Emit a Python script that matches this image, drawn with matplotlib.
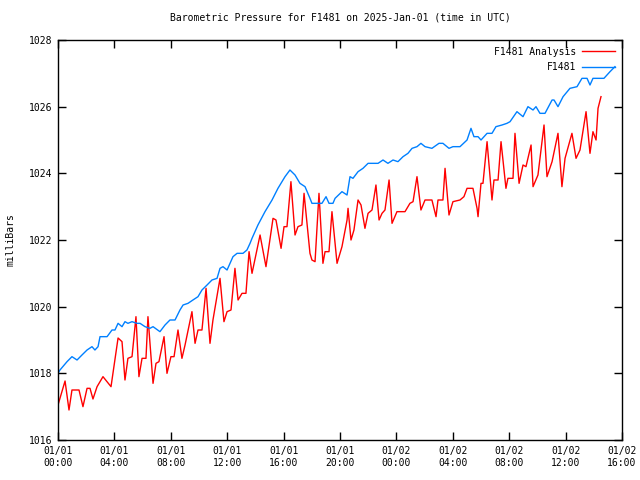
import matplotlib
matplotlib.use('Agg')
import matplotlib.pyplot as plt

# hours since 2025-01-01 00:00 UTC
analysis_hours = [0.00, 0.50, 0.78, 0.99, 1.49, 1.77, 2.06, 2.27, 2.48, 2.77, 3.19, 3.76,
                  4.26, 4.54, 4.75, 4.96, 5.25, 5.53, 5.74, 5.96, 6.24, 6.38, 6.74, 6.95,
                  7.16, 7.52, 7.73, 8.01, 8.23, 8.51, 8.79, 9.01, 9.50, 9.72, 9.93, 10.21,
                  10.50, 10.78, 10.99, 11.49, 11.77, 11.99, 12.27, 12.55, 12.77, 13.05, 13.33,
                  13.55, 13.76, 14.33, 14.75, 15.25, 15.46, 15.82, 16.03, 16.24, 16.52, 16.81,
                  17.02, 17.30, 17.45, 17.87, 18.01, 18.23, 18.51, 18.79, 18.94, 19.22, 19.43,
                  19.79, 20.14, 20.50, 20.57, 20.78, 20.99, 21.28, 21.49, 21.77, 21.99, 22.27,
                  22.55, 22.77, 22.98, 23.19, 23.48, 23.69, 24.04, 24.61, 24.96, 25.18, 25.46,
                  25.74, 26.03, 26.52, 26.81, 26.95, 27.30, 27.45, 27.73, 28.01, 28.51, 28.79,
                  29.01, 29.43, 29.72, 29.79, 30.00, 30.14, 30.43, 30.78, 30.92, 31.21, 31.42,
                  31.77, 31.91, 32.27, 32.41, 32.70, 32.98, 33.19, 33.55, 33.69, 34.04, 34.47,
                  34.68, 35.04, 35.46, 35.74, 35.96, 36.45, 36.74, 37.02, 37.45, 37.73, 37.94,
                  38.16, 38.30, 38.51]
analysis_mb = [1017.05, 1017.77, 1016.9, 1017.5, 1017.5, 1017.0, 1017.55, 1017.55, 1017.23,
               1017.6, 1017.9, 1017.6, 1019.06, 1018.95, 1017.8, 1018.45, 1018.5, 1019.7,
               1017.9, 1018.45, 1018.45, 1019.7, 1017.7, 1018.3, 1018.35, 1019.1, 1018.0,
               1018.5, 1018.5, 1019.3, 1018.45, 1018.85, 1019.85, 1018.9, 1019.3, 1019.3,
               1020.55, 1018.9, 1019.6, 1020.85, 1019.55, 1019.85, 1019.9, 1021.15, 1020.2,
               1020.4, 1020.4, 1021.65, 1021.0, 1022.15, 1021.2, 1022.65, 1022.6, 1021.75,
               1022.4, 1022.4, 1023.75, 1022.15, 1022.4, 1022.45, 1023.4, 1021.6, 1021.4,
               1021.35, 1023.4, 1021.3, 1021.65, 1021.65, 1022.85, 1021.3, 1021.8, 1022.6,
               1022.95, 1022.0, 1022.3, 1023.2, 1023.05, 1022.35, 1022.8, 1022.9, 1023.65,
               1022.6, 1022.8, 1022.9, 1023.8, 1022.5, 1022.85, 1022.85, 1023.1, 1023.15,
               1023.9, 1022.9, 1023.2, 1023.2, 1022.7, 1023.2, 1023.2, 1024.15, 1022.75,
               1023.15, 1023.2, 1023.3, 1023.55, 1023.55, 1022.95, 1022.7, 1023.7, 1023.7,
               1024.95, 1023.2, 1023.8, 1023.8, 1024.95, 1023.55, 1023.85, 1023.85, 1025.2,
               1023.7, 1024.25, 1024.2, 1024.85, 1023.6, 1023.95, 1025.45, 1023.9, 1024.35,
               1025.2, 1023.6, 1024.45, 1025.2, 1024.45, 1024.7, 1025.85, 1024.6, 1025.25,
               1025.0, 1025.95, 1026.3]

obs_hours = [0.00, 0.14, 0.64, 0.99, 1.35, 1.70, 2.06, 2.41, 2.62, 2.84, 2.98, 3.48, 3.83,
             4.04, 4.26, 4.54, 4.75, 4.96, 5.25, 5.60, 5.82, 6.17, 6.52, 6.74, 7.23, 7.59,
             7.94, 8.30, 8.65, 8.87, 9.22, 9.57, 9.93, 10.21, 10.57, 10.92, 11.28, 11.49,
             11.70, 11.99, 12.41, 12.70, 13.12, 13.40, 13.62, 13.76, 14.18, 14.68, 15.18,
             15.60, 16.10, 16.45, 16.81, 17.16, 17.52, 17.87, 18.01, 18.72, 19.01, 19.22,
             19.50, 19.65, 20.14, 20.50, 20.71, 20.92, 21.28, 21.63, 21.99, 22.70, 23.05,
             23.40, 23.76, 24.11, 24.47, 24.82, 25.11, 25.46, 25.74, 26.03, 26.52, 27.02,
             27.30, 27.73, 28.01, 28.51, 29.01, 29.29, 29.50, 29.79, 30.00, 30.43, 30.78,
             31.06, 31.49, 31.84, 32.06, 32.55, 32.98, 33.33, 33.69, 33.90, 34.18, 34.54,
             35.04, 35.18, 35.46, 35.82, 36.31, 36.81, 37.16, 37.52, 37.73, 37.94, 38.72,
             39.15, 39.50]
obs_mb = [1018.0, 1018.1, 1018.35, 1018.5, 1018.4, 1018.55, 1018.7, 1018.8, 1018.7, 1018.8,
          1019.1, 1019.1, 1019.3, 1019.3, 1019.5, 1019.4, 1019.55, 1019.5, 1019.55, 1019.5,
          1019.5, 1019.4, 1019.35, 1019.4, 1019.25, 1019.45, 1019.6, 1019.6, 1019.9, 1020.05,
          1020.1, 1020.2, 1020.3, 1020.5, 1020.65, 1020.8, 1020.85, 1021.15, 1021.2, 1021.1,
          1021.5, 1021.6, 1021.6, 1021.7, 1021.9, 1022.05, 1022.45, 1022.85, 1023.2, 1023.55,
          1023.9, 1024.1, 1023.95, 1023.7, 1023.6, 1023.25, 1023.1, 1023.1, 1023.3, 1023.1,
          1023.1, 1023.25, 1023.45, 1023.35, 1023.9, 1023.85, 1024.05, 1024.15, 1024.3,
          1024.3, 1024.4, 1024.3, 1024.4, 1024.35, 1024.5, 1024.6, 1024.75, 1024.8, 1024.9,
          1024.8, 1024.75, 1024.9, 1024.9, 1024.75, 1024.8, 1024.8, 1025.0, 1025.35, 1025.1,
          1025.1, 1025.0, 1025.2, 1025.2, 1025.4, 1025.45, 1025.5, 1025.55, 1025.85, 1025.7,
          1026.0, 1025.9, 1026.0, 1025.8, 1025.8, 1026.2, 1026.2, 1026.0, 1026.3, 1026.55,
          1026.6, 1026.85, 1026.85, 1026.65, 1026.85, 1026.85, 1027.05, 1027.2]

tick_hours = [0, 4, 8, 12, 16, 20, 24, 28, 32, 36, 40]
tick_labels = ['01/01\n00:00', '01/01\n04:00', '01/01\n08:00', '01/01\n12:00',
               '01/01\n16:00', '01/01\n20:00', '01/02\n00:00', '01/02\n04:00',
               '01/02\n08:00', '01/02\n12:00', '01/02\n16:00']
y_ticks = [1016, 1018, 1020, 1022, 1024, 1026, 1028]

plt.rcParams['font.family'] = ['DejaVu Sans Mono']
plt.rcParams['font.size'] = 7

fig = plt.figure(figsize=(6.4, 4.8), dpi=100)
ax = fig.add_axes([58 / 640, 40 / 480, 564 / 640, 400 / 480])

ax.plot(analysis_hours, analysis_mb, color='#ff0000', lw=1.0, label='F1481 Analysis')
ax.plot(obs_hours, obs_mb, color='#0080ff', lw=1.0, label='F1481')

ax.set_xlim(0, 40)
ax.set_ylim(1016, 1028)
ax.set_xticks(tick_hours)
ax.set_xticklabels(tick_labels, linespacing=1.3)
ax.set_yticks(y_ticks)
ax.tick_params(direction='in', length=6, width=1, top=True, right=True, pad=4)
for s in ax.spines.values():
    s.set_linewidth(1)

ax.set_title('Barometric Pressure for F1481 on 2025-Jan-01 (time in UTC)', fontsize=7, pad=14)
ax.set_ylabel('milliBars', labelpad=10)

ax.legend(loc='upper right', frameon=False, markerfirst=False, handlelength=3.4,
          borderaxespad=0.5, borderpad=0.2, labelspacing=0.55, handletextpad=0.6)

fig.savefig('out.png', dpi=100)
